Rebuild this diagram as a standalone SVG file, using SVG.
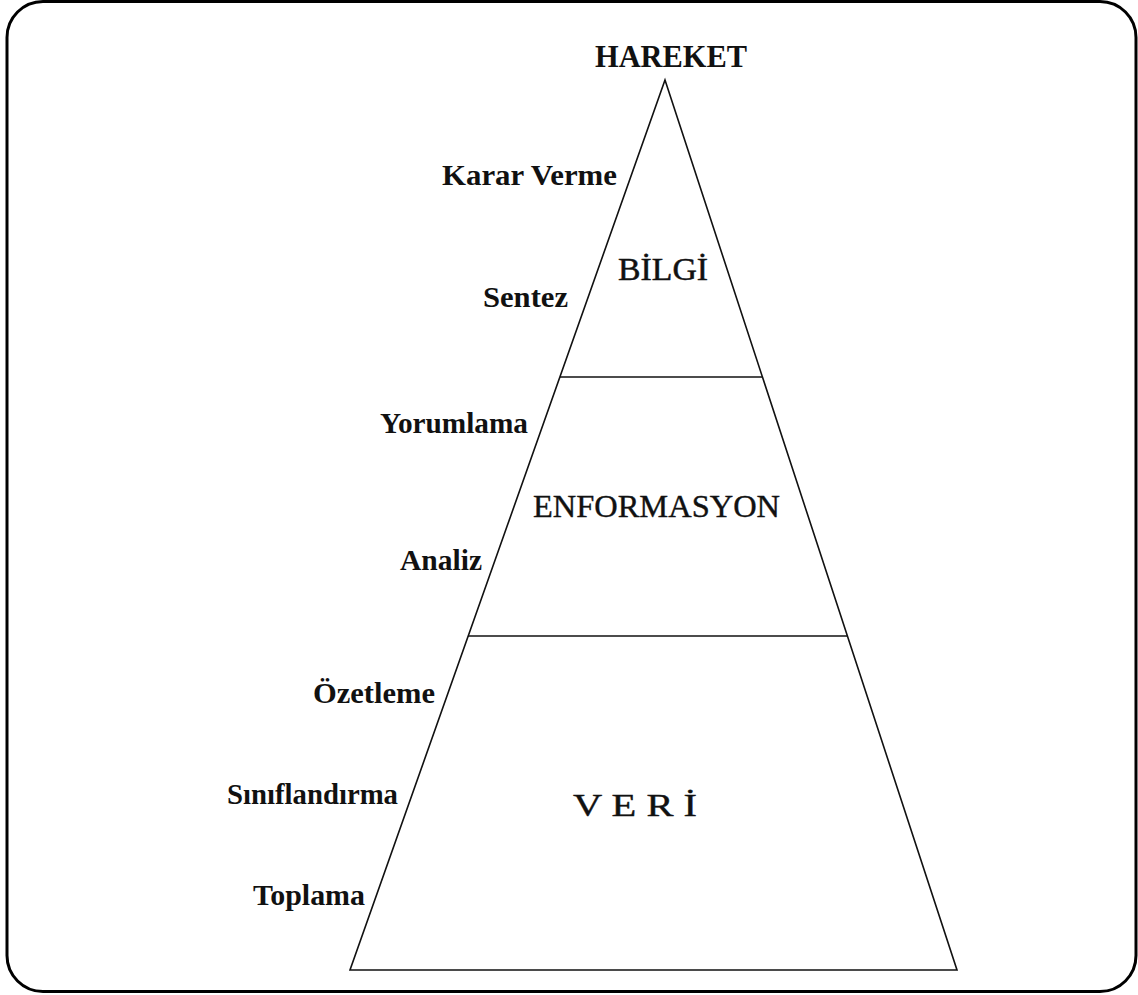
<svg xmlns="http://www.w3.org/2000/svg" width="1138" height="995" viewBox="0 0 1138 995">
<style>
.lbl{font-family:"Liberation Serif","Times New Roman",serif;font-weight:bold;font-size:29px;fill:#111}
.ttl{font-family:"Liberation Serif","Times New Roman",serif;font-size:32px;fill:#111}
.ln{stroke:#111;stroke-width:1.6;fill:none}
</style>
<rect x="7" y="1.5" width="1129" height="990" rx="36" ry="36" fill="#fff" stroke="#000" stroke-width="3"/>
<g id="connectors">
<polygon class="ln" points="665,80 957,970 350,970"/>
<line class="ln" x1="560" y1="377" x2="762" y2="377"/>
<line class="ln" x1="468" y1="636" x2="847" y2="636"/>
</g>
<g id="hareket"><text class="ttl" x="595" y="67" font-weight="bold" textLength="152" lengthAdjust="spacingAndGlyphs">HAREKET</text></g>
<g id="bilgi"><text class="ttl" x="618" y="280" textLength="90" lengthAdjust="spacingAndGlyphs" style="stroke:#111;stroke-width:0.5">BİLGİ</text></g>
<g id="enformasyon"><text class="ttl" x="533" y="517" textLength="247" lengthAdjust="spacingAndGlyphs" style="stroke:#111;stroke-width:0.4">ENFORMASYON</text></g>
<g id="veri"><text class="ttl" x="573" y="816" textLength="124" lengthAdjust="spacingAndGlyphs" style="stroke:#111;stroke-width:0.4">V E R İ</text></g>
<g id="karar-verme"><text class="lbl" x="442" y="185" textLength="175" lengthAdjust="spacingAndGlyphs">Karar Verme</text></g>
<g id="sentez"><text class="lbl" x="483" y="307" textLength="85" lengthAdjust="spacingAndGlyphs">Sentez</text></g>
<g id="yorumlama"><text class="lbl" x="380" y="433" textLength="148" lengthAdjust="spacingAndGlyphs">Yorumlama</text></g>
<g id="analiz"><text class="lbl" x="400" y="570" textLength="82" lengthAdjust="spacingAndGlyphs">Analiz</text></g>
<g id="ozetleme"><text class="lbl" x="313" y="703" textLength="122" lengthAdjust="spacingAndGlyphs">Özetleme</text></g>
<g id="siniflandirma"><text class="lbl" x="227" y="804" textLength="171" lengthAdjust="spacingAndGlyphs">Sınıflandırma</text></g>
<g id="toplama"><text class="lbl" x="253" y="905" textLength="112" lengthAdjust="spacingAndGlyphs">Toplama</text></g>
</svg>
